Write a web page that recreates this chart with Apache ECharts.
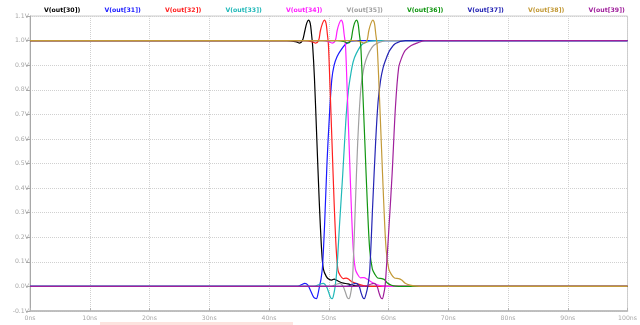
<!DOCTYPE html>
<html>
<head>
<meta charset="utf-8">
<script src="https://cdn.jsdelivr.net/npm/echarts@6/dist/echarts.min.js"></script>
<style>
    html, body { margin: 0; padding: 0; background: #fff; }
    #chart { width: 640px; height: 325px; }
</style>
</head>
<body>
<div id="chart"></div>
<script>
// trace names, in drawing order
const names = ["V(out[30])", "V(out[31])", "V(out[32])", "V(out[33])", "V(out[34])",
    "V(out[35])", "V(out[36])", "V(out[37])", "V(out[38])", "V(out[39])"];
const colors = ["#000000", "#1a1aff", "#ff2020", "#20b8b8", "#ff20ff",
    "#a0a0a0", "#129612", "#2424b4", "#c39a38", "#a0209c"];

// x ticks (ns), y ticks (V)
const xTicks = [0, 10, 20, 30, 40, 50, 60, 70, 80, 90, 100];
const yTicks = [-0.1, 0, 0.1, 0.2, 0.3, 0.4, 0.5, 0.6, 0.7, 0.8, 0.9, 1.0, 1.1];

// [time ns, volts]
const out30 = [[0,1],[43,1],[44.6,0.995],[45.1,0.99],[45.6,1.0],[46.0,1.04],[46.3,1.07],[46.6,1.083],[46.9,1.07],[47.1,1.03],[47.3,0.98],[47.6,0.85],[48.0,0.6],[48.4,0.35],[48.8,0.15],[49.1,0.07],[49.6,0.04],[50.1,0.028],[50.5,0.026],[50.9,0.03],[51.4,0.024],[52.2,0.015],[53.2,0.01],[54.5,0.002],[56,0],[100,0]];
const out31 = [[0,0],[44.8,0],[45.5,0.008],[46.0,0.012],[46.5,0.005],[47.0,-0.02],[47.5,-0.045],[47.93,-0.05],[48.2,-0.03],[48.45,0.0],[48.7,0.03],[48.95,0.08],[49.3,0.25],[49.7,0.5],[50.1,0.69],[50.5,0.84],[50.9,0.9],[51.4,0.935],[52.0,0.96],[52.8,0.985],[53.7,0.998],[55,1],[100,1]];
const out32 = [[0,1],[46,1],[47.3,0.995],[47.8,0.99],[48.3,1.0],[48.6,1.04],[48.95,1.07],[49.26,1.083],[49.55,1.07],[49.75,1.03],[49.95,0.98],[50.2,0.82],[50.55,0.58],[50.9,0.34],[51.25,0.15],[51.55,0.065],[51.9,0.045],[52.4,0.032],[52.9,0.034],[53.3,0.03],[53.8,0.02],[54.6,0.012],[55.8,0.003],[57,0],[100,0]];
const out33 = [[0,0],[47.5,0],[48.6,0.01],[49.1,0.012],[49.6,0.0],[50.0,-0.025],[50.3,-0.045],[50.58,-0.05],[50.85,-0.03],[51.07,0.0],[51.35,0.065],[51.8,0.25],[52.35,0.46],[52.9,0.69],[53.3,0.8],[53.7,0.866],[54.1,0.915],[54.6,0.947],[55.6,0.985],[57.0,0.998],[58,1],[100,1]];
const out34 = [[0,1],[49,1],[50.1,0.995],[50.6,0.99],[51.1,1.0],[51.4,1.04],[51.75,1.07],[52.07,1.083],[52.35,1.07],[52.55,1.03],[52.8,0.98],[53.05,0.82],[53.4,0.58],[53.75,0.34],[54.1,0.15],[54.45,0.07],[54.8,0.05],[55.3,0.035],[55.9,0.036],[56.4,0.03],[57.0,0.02],[57.8,0.01],[58.8,0.002],[60,0],[100,0]];
const out35 = [[0,0],[50.3,0],[51.4,0.01],[51.9,0.012],[52.4,0.0],[52.8,-0.025],[53.1,-0.045],[53.39,-0.05],[53.65,-0.03],[53.85,0.0],[54.05,0.065],[54.45,0.33],[54.85,0.59],[55.35,0.8],[55.8,0.88],[56.2,0.92],[56.8,0.955],[57.5,0.98],[58.5,0.993],[59.5,1],[100,1]];
const out36 = [[0,1],[51.5,1],[52.7,0.995],[53.2,0.99],[53.7,1.0],[54.0,1.04],[54.3,1.07],[54.63,1.083],[54.9,1.07],[55.1,1.03],[55.35,0.98],[55.65,0.82],[56.05,0.58],[56.45,0.34],[56.85,0.15],[57.3,0.07],[57.7,0.05],[58.2,0.034],[58.9,0.032],[59.3,0.028],[59.8,0.014],[60.5,0.005],[61.2,0.001],[62.5,0],[100,0]];
const out37 = [[0,0],[53,0],[54.1,0.01],[54.6,0.012],[55.1,0.0],[55.4,-0.025],[55.7,-0.045],[55.95,-0.05],[56.25,-0.03],[56.53,0.0],[56.86,0.065],[57.35,0.33],[57.85,0.59],[58.25,0.75],[58.68,0.84],[59.1,0.89],[59.5,0.92],[60.2,0.96],[61.16,0.988],[62.8,1],[100,1]];
const out38 = [[0,1],[54.2,1],[55.4,0.995],[55.9,0.99],[56.4,1.0],[56.7,1.04],[57.05,1.07],[57.36,1.083],[57.65,1.07],[57.85,1.03],[58.1,0.98],[58.4,0.82],[58.8,0.58],[59.2,0.34],[59.6,0.15],[60.05,0.07],[60.5,0.048],[61.0,0.034],[61.7,0.032],[62.2,0.026],[62.8,0.013],[63.6,0.005],[64.5,0.001],[66,0],[100,0]];
const out39 = [[0,0],[56,0],[57.1,0.01],[57.6,0.012],[58.1,0.0],[58.4,-0.025],[58.7,-0.045],[58.96,-0.05],[59.2,-0.03],[59.42,0.0],[59.62,0.065],[60.1,0.25],[60.61,0.46],[61.16,0.73],[61.7,0.89],[62.2,0.93],[62.8,0.96],[63.8,0.98],[65.0,0.992],[66.1,1],[100,1]];

const traces = [out30, out31, out32, out33, out34, out35, out36, out37, out38, out39];

const chart = echarts.init(document.getElementById("chart"), null, { renderer: "canvas" });

const fontFamily = "DejaVu Sans";

// one small legend per trace so each label sits where the original has it
const legends = names.map((name, i) => ({
    data: [name],
    left: 38 + 60.5 * i,
    top: 7,
    padding: 0,
    itemWidth: 0,
    itemHeight: 0,
    itemGap: 0,
    selectedMode: false,
    textStyle: {
        color: colors[i],
        fontFamily: fontFamily,
        fontWeight: "bold",
        fontSize: 6.2
    }
}));

const option = {
    animation: false,
    backgroundColor: "#ffffff",
    grid: {
        left: 30,
        right: 5,
        top: 16,
        bottom: 14,
        show: true,
        borderColor: "#cccccc",
        borderWidth: 1
    },
    legend: legends,
    xAxis: {
        type: "value",
        min: xTicks[0],
        max: xTicks[xTicks.length - 1],
        interval: 10,
        axisLine: { show: true, onZero: false, lineStyle: { color: "#b4b4b4", width: 1.5 } },
        axisTick: { show: true, inside: true, length: 3, lineStyle: { color: "#b4b4b4" } },
        axisLabel: {
            color: "#a8a8a8",
            fontFamily: fontFamily,
            fontSize: 6.2,
            margin: 4,
            formatter: v => v + "ns"
        },
        splitLine: { show: true, lineStyle: { color: "#d0d0d0", type: [1, 1], width: 1 } }
    },
    yAxis: {
        type: "value",
        min: yTicks[0],
        max: yTicks[yTicks.length - 1],
        interval: 0.1,
        axisLine: { show: true, onZero: false, lineStyle: { color: "#a8a8a8", width: 1 } },
        axisTick: { show: true, inside: false, length: 4, lineStyle: { color: "#a8a8a8" } },
        axisLabel: {
            color: "#a8a8a8",
            fontFamily: fontFamily,
            fontSize: 6.2,
            margin: 1,
            formatter: v => v.toFixed(1) + "V"
        },
        splitLine: { show: true, lineStyle: { color: "#d0d0d0", type: [1, 1], width: 1 } }
    },
    graphic: [
        {
            type: "rect",
            shape: { x: 100, y: 322, width: 193, height: 3 },
            style: { fill: "#fde3df" },
            silent: true
        }
    ],
    series: traces.map((data, i) => ({
        name: names[i],
        type: "line",
        data: data,
        showSymbol: false,
        symbol: "none",
        smooth: 0.3,
        clip: true,
        lineStyle: { color: colors[i], width: 1.2 },
        itemStyle: { color: colors[i] }
    }))
};

chart.setOption(option);
</script>
</body>
</html>
